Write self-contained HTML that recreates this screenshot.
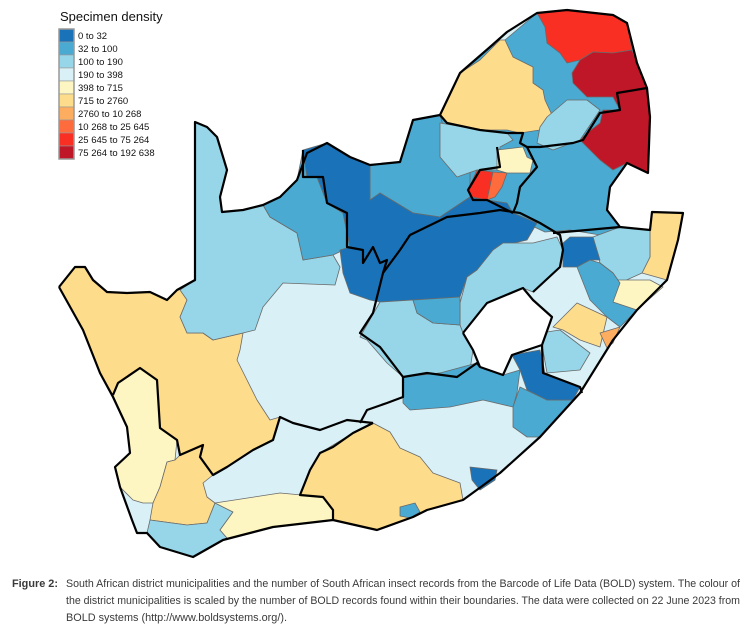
<!DOCTYPE html>
<html><head><meta charset="utf-8"><style>
body{margin:0;background:#fff;width:754px;height:631px;overflow:hidden;font-family:"Liberation Sans",sans-serif}
svg{position:absolute;left:0;top:0}
</style></head><body>
<svg id="map" width="754" height="631" viewBox="0 0 754 631" xmlns="http://www.w3.org/2000/svg">
<g id="regions" stroke="#6a6a6a" stroke-width="0.8" stroke-linejoin="round"></g>
<g id="borders" fill="none" stroke="#000" stroke-width="2.2" stroke-linejoin="round"></g>
<g id="legend"></g>
<g id="caption" font-family="Liberation Sans, sans-serif" font-size="11" fill="#3a3a3a">
<text x="12" y="587" font-weight="bold" textLength="46" lengthAdjust="spacingAndGlyphs">Figure 2:</text>
<text x="66" y="587" textLength="674" lengthAdjust="spacingAndGlyphs">South African district municipalities and the number of South African insect records from the Barcode of Life Data (BOLD) system. The colour of</text>
<text x="66" y="604" textLength="674" lengthAdjust="spacingAndGlyphs">the district municipalities is scaled by the number of BOLD records found within their boundaries. The data were collected on 22 June 2023 from</text>
<text x="66" y="621" textLength="221" lengthAdjust="spacingAndGlyphs">BOLD systems (http://www.boldsystems.org/).</text>
</g>
</svg>
<script>
const legendLabels = ["0 to 32","32 to 100","100 to 190","190 to 398","398 to 715","715 to 2760","2760 to 10 268","10 268 to 25 645","25 645 to 75 264","75 264 to 192 638"];
const legendColors = ["#1a73b8","#4aaad2","#96d6e8","#d9f0f6","#fdf6c3","#fddc8c","#fdad5f","#fe6b3c","#f92f24","#bf1628"];
const NS="http://www.w3.org/2000/svg";
const country="59,287 75,267 85,267 93,280 107,292 127,293 150,292 167,300 177,290 195,280 195,122 207,127 217,137 227,170 220,197 222,212 243,210 263,205 280,197 297,180 307,153 327,143 350,157 370,165 400,162 413,120 440,115 460,73 490,47 507,32 537,13 567,10 613,15 627,23 637,63 647,88 650,117 648,173 627,163 610,187 607,210 620,227 650,230 652,212 683,213 678,240 667,280 637,310 613,340 580,393 540,437 500,473 463,500 427,510 413,517 377,530 333,520 273,527 223,540 193,557 160,547 147,533 137,533 132,520 120,487 115,467 130,453 127,427 113,397 100,373 83,330";
const lesotho="463,333 487,303 523,288 533,300 552,317 542,345 512,355 503,375 480,367 473,350";
// [polygon points, colour class index]
const districts=[
 [country,3],
 ["59,287 75,267 85,267 93,280 107,292 127,293 150,292 167,300 177,290 195,280 187,300 180,317 187,333 203,333 213,340 243,333 240,350 237,360 247,380 257,400 270,420 280,417 273,440 253,450 227,467 213,475 200,457 203,445 180,455 177,440 160,428 157,380 140,368 118,383 113,395 100,373 83,330",5],
 ["113,395 118,383 140,368 157,380 160,428 177,440 175,460 167,462 160,487 153,503 143,503 133,500 120,487 115,467 130,453 127,427",4],
 ["167,462 175,460 180,455 203,445 200,457 213,475 203,483 207,497 215,503 207,523 187,525 150,520 153,503 160,487",5],
 ["150,520 187,525 207,523 215,503 233,512 220,530 227,538 193,557 160,547 147,533",2],
 ["215,503 280,493 323,497 333,510 333,520 273,527 223,540 227,538 220,530 233,512",4],
 ["300,495 310,470 320,453 353,433 373,423 390,432 400,448 420,457 433,473 460,483 463,500 427,510 413,517 377,530 333,520 333,510 323,497",5],
 ["400,507 415,503 420,512 410,518 400,516",1],
 ["470,467 497,470 495,480 480,490 472,480",0],
 ["195,122 207,127 217,137 227,170 220,197 222,212 243,210 263,205 270,217 297,233 303,260 333,255 340,267 335,285 283,283 263,307 255,330 243,333 213,340 203,333 187,333 180,317 187,300 180,290 195,280",2],
 ["263,205 280,197 297,180 303,150 307,177 317,177 327,203 343,213 350,247 333,255 303,260 297,233 270,217",1],
 ["505,40 537,13 567,10 613,15 627,23 637,63 647,88 650,117 648,173 627,163 610,187 607,210 620,227 600,235 570,230 545,232 530,225 513,213 490,205 470,197 465,175 447,140 440,115 460,73 490,47",1],
 ["370,165 400,162 413,120 440,115 447,140 460,150 470,170 470,197 440,217 413,213 380,193 375,212 370,200",1],
 ["303,150 327,143 350,157 370,165 370,200 380,193 413,213 440,217 470,197 487,200 507,203 513,213 537,223 527,240 497,247 490,260 477,270 467,277 460,297 413,300 380,302 370,300 350,293 343,273 340,250 350,247 343,213 327,203 317,177 307,177",0],
 ["493,250 503,243 533,243 557,237 563,250 560,267 533,292 523,288 487,303 463,333 460,325 460,303 467,277 477,270",2],
 ["360,337 380,302 413,300 417,313 433,323 460,325 463,333 473,350 470,370 440,373 403,377 387,363 367,340",2],
 ["413,300 460,297 460,325 433,323 417,313",1],
 ["403,377 440,373 477,363 503,375 520,370 517,393 513,407 483,400 450,407 410,410 403,403",1],
 ["520,387 547,400 573,400 540,437 527,437 513,427 513,407",1],
 ["512,355 540,350 545,373 580,387 573,400 547,400 527,390 520,370",0],
 ["440,115 447,100 460,73 480,60 500,40 505,40 513,57 533,67 533,83 543,90 545,100 552,115 540,130 520,133 507,130 480,130 463,127 447,123",5],
 ["537,13 567,10 613,15 627,23 632,50 613,53 593,52 580,60 567,63 560,53 547,43 545,27",8],
 ["593,52 613,53 632,50 637,63 647,88 650,117 648,173 627,163 613,170 600,160 590,150 580,140 587,133 600,123 603,110 620,110 613,97 587,97 573,83 572,73 580,60",9],
 ["547,117 567,100 587,100 600,110 580,140 553,150 537,143 540,127",2],
 ["440,123 463,127 480,130 507,133 513,140 500,147 497,170 477,170 457,177 440,157",2],
 ["497,150 523,147 527,157 533,160 530,173 507,173 497,170",4],
 ["477,170 493,172 487,200 472,197 468,190",8],
 ["493,172 507,173 502,187 495,197 487,200",7],
 ["652,212 683,213 678,240 667,280 642,273 650,257 650,230",5],
 ["593,237 620,227 650,230 650,257 642,273 620,283 613,273 600,263",2],
 ["563,243 570,237 593,237 600,260 590,260 577,267 563,267",0],
 ["600,290 613,280 650,280 663,287 637,310 627,310 613,302",4],
 ["577,267 590,260 600,263 613,273 620,283 613,302 637,310 620,327 607,317 590,300",1],
 ["553,327 577,303 607,317 600,347 580,340 563,330",5],
 ["600,333 620,327 613,343 607,348",6],
 ["540,333 560,330 590,353 580,370 547,373 542,345",2],
 [lesotho,-1]
];
const borders=[
 country,
 lesotho,
 "303,150 303,177 323,177 327,203 347,213 347,247 363,250 363,263 373,247 380,263 387,260 383,273 373,313 360,333 380,347 403,377 403,397 387,403 367,410 360,423",
 "403,377 427,373 457,377 477,363 480,367",
 "373,423 353,433 333,447 320,453 310,470 300,495 323,497 333,510 333,520",
 "373,423 347,420 320,430 293,423 280,417 273,440 253,450 227,467 213,475 200,457 203,445 180,455 177,440 160,428 157,380 140,368 118,383 113,395",
 "383,273 400,250 410,235 447,217 480,213 500,210 520,213 540,223 560,235 563,250 560,267 533,292",
 "542,345 543,373 580,387 582,393",
 "553,233 587,230 620,227",
 "440,115 447,123 480,130 507,133 523,133 520,143 527,147 540,147 573,143 583,140 600,113 620,110 617,93 647,88",
 "527,147 537,167 520,187 517,203 513,213",
 "497,147 500,167 480,170 468,190 473,200 487,200 513,213"
];
const gR=document.getElementById('regions');
for(const d of districts){
 const p=document.createElementNS(NS,'polygon');
 p.setAttribute('points',d[0]);
 p.setAttribute('fill',d[1]<0?'#fff':legendColors[d[1]]);
 
 
 gR.appendChild(p);
}
const gB=document.getElementById('borders');
for(const b of borders){
 const p=document.createElementNS(NS,'polyline');
 p.setAttribute('points',b);
 
 
 gB.appendChild(p);
}
// close country/lesotho outlines
gB.children[0].setAttribute('points',country+' 59,287');
gB.children[1].setAttribute('points',lesotho+' 463,333');
const gL=document.getElementById('legend');
const t=document.createElementNS(NS,'text');
t.setAttribute('x','60');t.setAttribute('y','21');t.setAttribute('font-size','13');t.setAttribute('fill','#111');
t.setAttribute('font-family','Liberation Sans, sans-serif');
t.textContent='Specimen density';


gL.appendChild(t);
const frame=document.createElementNS(NS,'rect');
frame.setAttribute('x','59');frame.setAttribute('y','29');frame.setAttribute('width','15');frame.setAttribute('height','130');
frame.setAttribute('fill','none');frame.setAttribute('stroke','#999');frame.setAttribute('stroke-width','1.5');


legendLabels.forEach((lab,i)=>{
 const r=document.createElementNS(NS,'rect');
 r.setAttribute('x','59');r.setAttribute('y',String(29+i*13));r.setAttribute('width','15');r.setAttribute('height','13');
 r.setAttribute('fill',legendColors[i]);r.setAttribute('stroke','#999');r.setAttribute('stroke-width','0.6');
 
 
 gL.appendChild(r);
 const tx=document.createElementNS(NS,'text');
 tx.setAttribute('x','78');tx.setAttribute('y',String(39+i*13));tx.setAttribute('font-size','9.5');tx.setAttribute('fill','#111');
 tx.setAttribute('font-family','Liberation Sans, sans-serif');
 tx.textContent=lab;
 
 
 gL.appendChild(tx);
});
gL.appendChild(frame);
</script>
</body></html>
